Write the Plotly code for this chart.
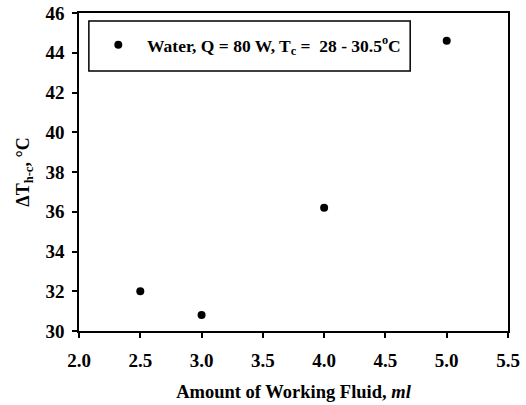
import plotly.graph_objects as go

fluid_ml = [2.5, 3.0, 4.0, 5.0]
delta_t = [32.0, 30.8, 36.2, 44.6]
series_name = "&nbsp;&nbsp;<b>Water, Q = 80 W, T<sub>c</sub> =&nbsp; 28 - 30.5<sup>o</sup>C</b>"
x_ticks = [2.0, 2.5, 3.0, 3.5, 4.0, 4.5, 5.0, 5.5]
y_ticks = [30, 32, 34, 36, 38, 40, 42, 44, 46]

FONT = "Liberation Serif"

fig = go.Figure()
fig.add_trace(go.Scatter(
    x=fluid_ml, y=delta_t, mode="markers", name=series_name,
    marker=dict(color="black", size=8, symbol="circle"),
    showlegend=True,
))

fig.update_layout(
    width=526, height=405,
    margin=dict(l=79, r=18, t=13, b=74),
    paper_bgcolor="white", plot_bgcolor="white",
    font=dict(family=FONT, color="black", size=19),
    legend=dict(
        x=0.045, y=0.9, xanchor="left", yanchor="middle",
        bgcolor="rgba(0,0,0,0)", borderwidth=0,
        font=dict(family=FONT, size=17.5, color="black"),
    ),
    shapes=[dict(
        type="rect", xref="paper", yref="paper",
        x0=0.023, x1=0.772, y0=0.818, y1=0.975,
        line=dict(color="black", width=1.5), fillcolor="rgba(0,0,0,0)",
    )],
)

common = dict(
    showline=True, linecolor="black", linewidth=1.5, mirror=True,
    ticks="outside", ticklen=5, tickcolor="black", tickwidth=1.5,
    showgrid=False, zeroline=False, automargin=False,
)
fig.update_xaxes(
    range=[2.0, 5.5], tickmode="array", tickvals=x_ticks,
    ticktext=[f"<b>{v:.1f}</b>" for v in x_ticks],
    tickfont=dict(family=FONT, size=19, color="black"), ticklabelstandoff=6,
    title_text="<b>Amount of Working Fluid, <i>ml</i></b>",
    title_font=dict(family=FONT, size=18.5, color="black"), title_standoff=16,
    **common,
)
fig.update_yaxes(
    range=[30, 46], tickmode="array", tickvals=y_ticks,
    ticktext=[f"<b>{v}</b>" for v in y_ticks],
    tickfont=dict(family=FONT, size=19, color="black"), ticklabelstandoff=4,
    title_text="<b>ΔT<sub>h-c</sub>, °C</b>",
    title_font=dict(family=FONT, size=18, color="black"), title_standoff=11,
    **common,
)

fig.write_html("out.html")
